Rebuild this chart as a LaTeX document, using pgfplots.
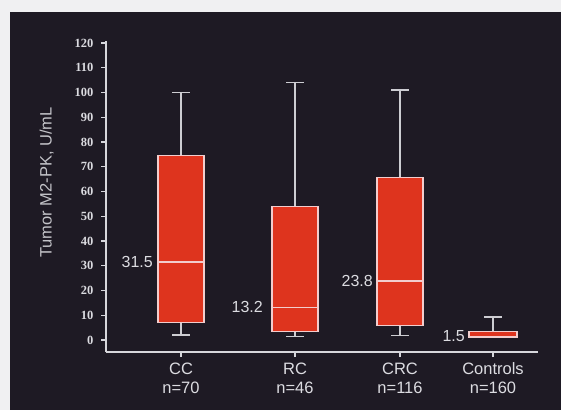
\documentclass[border=0pt]{standalone}
\usepackage{pgfplots}
\pgfplotsset{compat=1.18}
\usepgfplotslibrary{statistics}
\usepackage{fontspec}
\setmainfont{Liberation Sans}
\newfontfamily\tickfont{Liberation Serif}
\definecolor{bg}{RGB}{30,26,36}
\definecolor{margin}{RGB}{240,240,242}
\definecolor{boxred}{RGB}{222,52,30}
\definecolor{boxedge}{RGB}{242,205,205}
\definecolor{whisk}{RGB}{205,205,210}
\definecolor{axcol}{RGB}{215,215,220}
\definecolor{txt}{RGB}{220,220,225}
\definecolor{ylab}{RGB}{195,195,200}
\begin{document}
\begin{tikzpicture}[x=1pt,y=1pt]
\fill[margin] (0,0) rectangle (561,410);
\fill[bg] (10,0) rectangle (561,398);
\begin{axis}[
  at={(106pt,58pt)}, anchor=south west,
  scale only axis, width=432pt, height=311pt,
  xmin=106, xmax=538, ymin=-4.85, ymax=120.8,
  axis lines=left,
  axis line style={-, draw=axcol, line width=1.3pt},
  tick align=outside,
  major tick length=5pt,
  tick style={draw=axcol, line width=1.1pt},
  ytick={0,10,...,120},
  xtick={181,295,400,493},
  xticklabels={{CC\\n=70},{RC\\n=46},{CRC\\n=116},{Controls\\n=160}},
  xticklabel style={align=center, text=txt, font=\fontsize{16.5}{19}\selectfont, yshift=-2pt},
  yticklabel style={text=txt, font=\tickfont\bfseries\fontsize{12.5}{13}\selectfont, xshift=-4pt},
  /pgf/number format/assume math mode=true,
  ylabel={Tumor M2-PK, U/mL},
  ylabel style={text=ylab, font=\fontsize{16.5}{18}\selectfont, at={(axis description cs:-0.137,0.545)}, anchor=center},
  boxplot/draw direction=y,
  boxplot/every whisker/.style={draw=whisk, line width=1.1pt},
  boxplot/every median/.style={draw=boxedge, line width=1.3pt},
  boxplot/every box/.style={draw=boxedge, fill=boxred, line width=1.1pt},
  clip=false,
]
\addplot[boxplot prepared={draw position=181, lower whisker=2, lower quartile=7, median=31.5, upper quartile=74.5, upper whisker=100, box extend=46, whisker extend=18}] coordinates {};
\addplot[boxplot prepared={draw position=295, lower whisker=1.5, lower quartile=3.3, median=13.2, upper quartile=54, upper whisker=104, box extend=46, whisker extend=18}] coordinates {};
\addplot[boxplot prepared={draw position=400, lower whisker=1.8, lower quartile=5.8, median=23.8, upper quartile=65.8, upper whisker=101, box extend=46, whisker extend=18}] coordinates {};
\addplot[boxplot prepared={draw position=493, lower whisker=1.0, lower quartile=1.1, median=1.5, upper quartile=3.6, upper whisker=9.3, box extend=48, whisker extend=18}] coordinates {};
\node[anchor=east, text=txt, font=\fontsize{16}{18}\selectfont, inner sep=0pt] at (axis cs:153,31.5) {31.5};
\node[anchor=east, text=txt, font=\fontsize{16}{18}\selectfont, inner sep=0pt] at (axis cs:263,13.2) {13.2};
\node[anchor=east, text=txt, font=\fontsize{16}{18}\selectfont, inner sep=0pt] at (axis cs:373,23.8) {23.8};
\node[anchor=east, text=txt, font=\fontsize{16}{18}\selectfont, inner sep=0pt] at (axis cs:465,1.6) {1.5};
\end{axis}
\end{tikzpicture}
\end{document}
